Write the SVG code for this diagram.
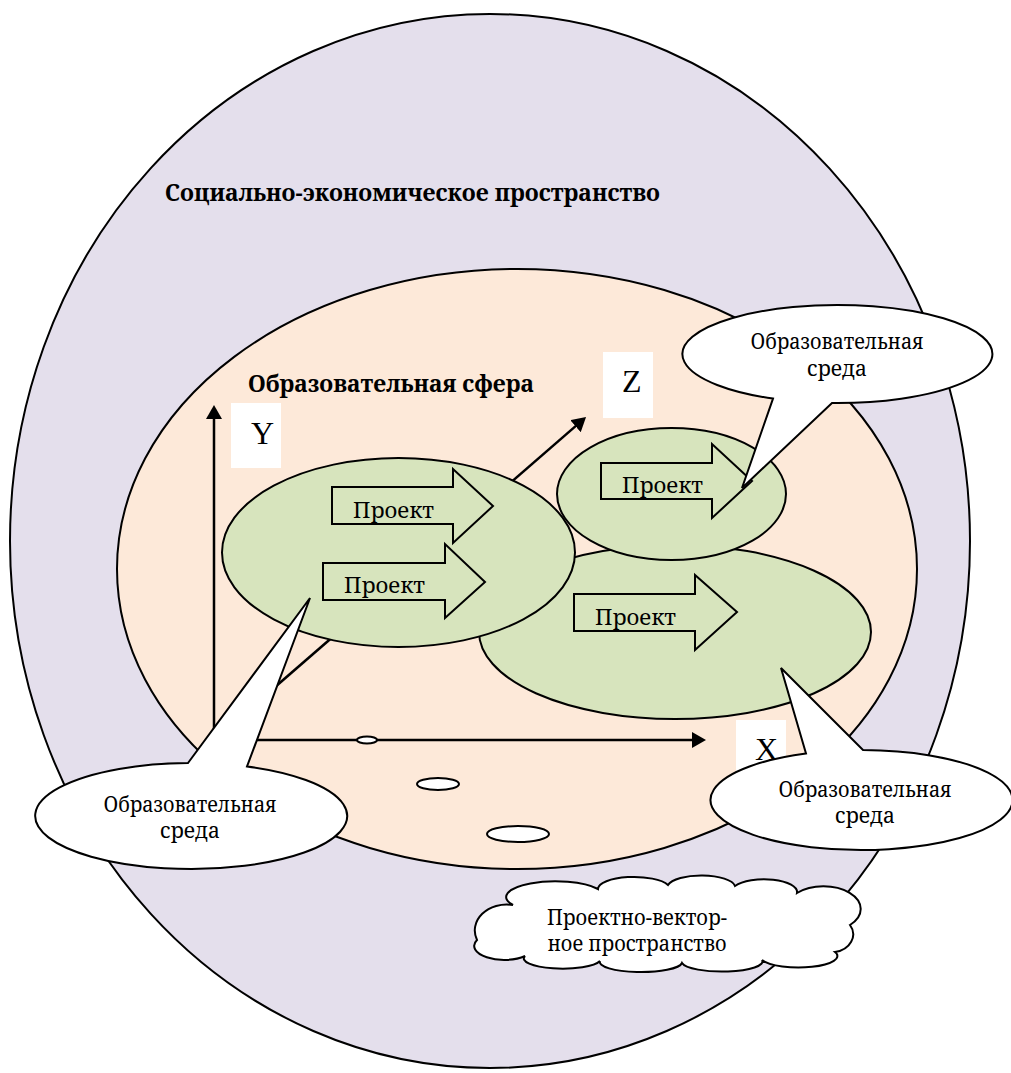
<svg xmlns="http://www.w3.org/2000/svg" width="1011" height="1073" viewBox="0 0 1011 1073">
<defs>
<style>
.ln{stroke:#000;stroke-width:2;}
.lav{fill:#E4DFEC;}
.peach{fill:#FDE9D9;}
.green{fill:#D7E4BD;}
.wh{fill:#FFFFFF;}
.t{font-family:"Noto Serif","Liberation Serif",serif;fill:#000;}
.hb{font-size:24px;font-weight:bold;}
.co{font-size:21px;text-anchor:middle;}
.pr{font-size:22px;}
.ax{font-family:"Liberation Serif",serif;font-size:32px;fill:#000;}
.axis{stroke:#000;stroke-width:2.5;fill:none;marker-end:url(#ah);}
</style>
<marker id="ah" viewBox="0 0 14 16" refX="4" refY="8" markerWidth="14" markerHeight="16" orient="auto" markerUnits="userSpaceOnUse">
<path d="M0,0 L14,8 L0,16 Z" fill="#000"/>
</marker>
</defs>

<g id="socio-economic-space">
<ellipse class="lav ln" cx="490" cy="541" rx="480" ry="527"/>
<text class="t hb" x="165" y="201" textLength="495" lengthAdjust="spacingAndGlyphs">Социально-экономическое пространство</text>
</g>

<g id="educational-sphere">
<ellipse class="peach ln" cx="517" cy="569" rx="400" ry="300"/>
<text class="t hb" x="248" y="392" textLength="286" lengthAdjust="spacingAndGlyphs">Образовательная сфера</text>
</g>

<g id="label-Y">
<rect class="wh" x="231" y="403" width="50" height="65"/>
<text class="ax" x="251" y="444">Y</text>
</g>
<g id="label-Z">
<rect class="wh" x="603" y="352" width="50" height="66"/>
<text class="ax" x="622" y="392">Z</text>
</g>
<g id="label-X">
<rect class="wh" x="736" y="720" width="50" height="65"/>
<text class="ax" x="755" y="760">X</text>
</g>

<g id="connectors">
<line class="axis" x1="214" y1="740" x2="214" y2="415"/>
<line class="axis" x1="214" y1="740" x2="696" y2="740"/>
<line class="axis" x1="214" y1="740" x2="578.5" y2="423.6"/>
</g>

<g id="small-ellipses">
<ellipse class="wh ln" cx="367" cy="740" rx="10" ry="3.5"/>
<ellipse class="wh ln" cx="438" cy="784" rx="21" ry="6"/>
<ellipse class="wh ln" cx="518" cy="834" rx="31" ry="8"/>
</g>

<g id="environment-bottom-right">
<ellipse class="green ln" cx="675" cy="632" rx="196" ry="87"/>
</g>
<g id="environment-top-right">
<ellipse class="green ln" cx="671.5" cy="494" rx="114.5" ry="66"/>
</g>
<g id="environment-left">
<ellipse class="green ln" cx="398.5" cy="552.5" rx="176.5" ry="94.5"/>
</g>

<g id="project-1">
<path class="green ln" d="M332,487 H453 V469 L493,506 L453,543 V524 H332 Z"/>
<text class="t pr" x="353" y="518" textLength="81" lengthAdjust="spacingAndGlyphs">Проект</text>
</g>
<g id="project-2">
<path class="green ln" d="M323,563 H445 V544 L485,582 L445,618 V600 H323 Z"/>
<text class="t pr" x="344" y="593" textLength="81" lengthAdjust="spacingAndGlyphs">Проект</text>
</g>
<g id="project-3">
<path class="green ln" d="M601,463 H712 V444 L752,481 L712,518 V499 H601 Z"/>
<text class="t pr" x="622" y="493" textLength="81" lengthAdjust="spacingAndGlyphs">Проект</text>
</g>
<g id="project-4">
<path class="green ln" d="M574,594 H695 V575 L737,612 L695,650 V631 H574 Z"/>
<text class="t pr" x="595" y="625" textLength="81" lengthAdjust="spacingAndGlyphs">Проект</text>
</g>

<g id="callout-top-right">
<path class="wh ln" d="M773,398.6 L742,488 L832,403 A155,49 0 1 0 773,398.6 Z"/>
<text class="t co" x="837" y="349" textLength="173" lengthAdjust="spacingAndGlyphs">Образовательная</text>
<text class="t co" x="837" y="376">среда</text>
</g>
<g id="callout-bottom-left">
<path class="wh ln" d="M188,763 L310,598 L247,766.5 A156,53 0 1 1 188,763 Z"/>
<text class="t co" x="190" y="812" textLength="173" lengthAdjust="spacingAndGlyphs">Образовательная</text>
<text class="t co" x="190" y="838">среда</text>
</g>
<g id="callout-bottom-right">
<path class="wh ln" d="M806,753.5 L781,668 L863,750 A151,50 0 1 1 806,753.5 Z"/>
<text class="t co" x="865" y="797" textLength="173" lengthAdjust="spacingAndGlyphs">Образовательная</text>
<text class="t co" x="865" y="823">среда</text>
</g>

<g id="project-vector-space">
<path class="wh ln" d="M477,940 A32,26 0 0 1 513,905 A44,14 0 0 1 598,889 A36,12 0 0 1 668,885 A34,12 0 0 1 735,886 A33,13 0 0 1 797,893 A36,22 0 0 1 850,925 A22,18 0 0 1 835,952 A37,11 0 0 1 762,960 A40,10 0 0 1 682,963 A41,10 0 0 1 600,961 A38,10 0 0 1 525,956 A30,14 0 0 1 477,940 Z"/>
<text class="t co" x="637" y="925" textLength="180" lengthAdjust="spacingAndGlyphs">Проектно-вектор-</text>
<text class="t co" x="637" y="951" textLength="179" lengthAdjust="spacingAndGlyphs">ное пространство</text>
</g>
</svg>
